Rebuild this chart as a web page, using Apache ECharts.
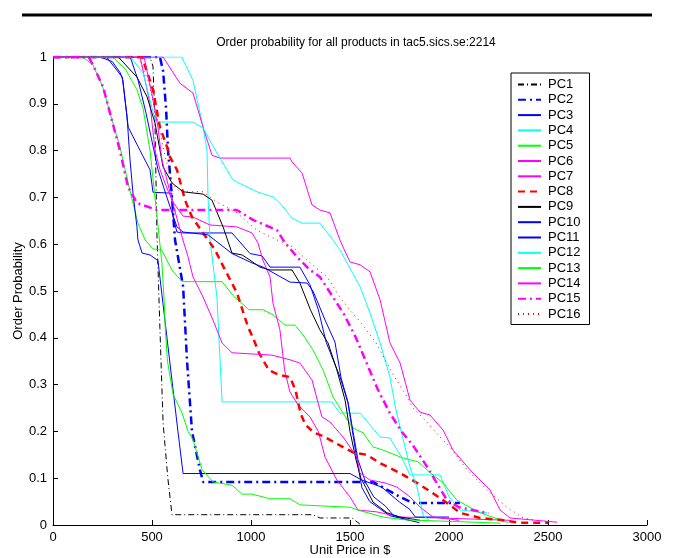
<!DOCTYPE html>
<html>
<head>
<meta charset="utf-8">
<script src="https://cdn.jsdelivr.net/npm/echarts@6/dist/echarts.min.js"></script>
<style>
  html, body { margin: 0; padding: 0; background: #fff; }
  #main { width: 673px; height: 558px; }
</style>
</head>
<body>
<div id="main"></div>
<script>
// [unit price, order probability] per product
const pc1 = [[0,1],[490,1],[505,0.98],[515,0.86],[525,0.62],[540,0.42],[556,0.218],[580,0.1],[601,0.022],[1313,0.022],[1348,0.015],[1510,0.015],[1550,0.002]];
const pc2 = [[0,1],[540,1],[556,0.97],[571,0.89],[581,0.8],[601,0.7],[616,0.61],[657,0.51],[677,0.35],[702,0.2],[742,0.118],[758,0.092],[1616,0.092],[1753,0.06],[1818,0.047],[2055,0.047]];
const pc3 = [[0,1],[270,1],[350,0.957],[380,0.85],[440,0.8],[490,0.759],[505,0.711],[600,0.709],[606,0.658],[626,0.626],[657,0.624],[904,0.624],[995,0.58],[1056,0.575],[1096,0.551],[1247,0.551],[1298,0.513],[1340,0.46],[1380,0.39],[1450,0.316],[1490,0.261],[1535,0.139],[1560,0.08],[1600,0.05],[1650,0.035],[1700,0.02],[1850,0.005]];
const pc4 = [[0,1],[650,1],[707,0.95],[758,0.85],[778,0.8],[783,0.7],[793,0.609],[828,0.487],[854,0.263],[1409,0.263],[1449,0.239],[1551,0.239],[1652,0.188],[1702,0.186],[1760,0.145],[1803,0.107],[1955,0.107],[2000,0.06],[2056,0.032],[2192,0.026]];
const pc5 = [[0,1],[150,1],[202,0.983],[253,0.934],[288,0.88],[338,0.808],[379,0.731],[429,0.645],[465,0.609],[505,0.59],[550,0.587],[600,0.545],[652,0.52],[854,0.52],[910,0.49],[990,0.46],[1061,0.46],[1111,0.449],[1172,0.427],[1222,0.427],[1263,0.406],[1313,0.374],[1364,0.331],[1414,0.274],[1465,0.239],[1515,0.207],[1566,0.197],[1616,0.167],[1667,0.16],[1768,0.143],[1843,0.135],[1919,0.107],[1970,0.09],[2040,0.053],[2157,0.026],[2300,0.005]];
const pc6 = [[0,1],[440,1],[490,0.9],[515,0.8],[540,0.76],[575,0.72],[606,0.69],[657,0.66],[707,0.658],[793,0.641],[929,0.637],[1005,0.624],[1035,0.603],[1060,0.566],[1096,0.53],[1111,0.474],[1146,0.417],[1170,0.33],[1197,0.284],[1237,0.257],[1298,0.231],[1340,0.2],[1374,0.145],[1434,0.096],[1500,0.06],[1540,0.032],[1636,0.028],[1753,0.017],[1955,0.015],[2308,0.01]];
const pc7 = [[0,1],[556,1],[641,0.944],[707,0.923],[758,0.85],[803,0.79],[843,0.784],[1197,0.784],[1207,0.776],[1258,0.752],[1308,0.684],[1348,0.673],[1399,0.667],[1449,0.609],[1480,0.58],[1500,0.562],[1551,0.556],[1601,0.541],[1652,0.481],[1702,0.389],[1753,0.346],[1803,0.267],[1854,0.241],[1904,0.235],[1970,0.203],[2020,0.16],[2121,0.111],[2207,0.075],[2258,0.032],[2308,0.015],[2545,0.006]];
const pc8 = [[0,1],[450,1],[505,0.93],[540,0.85],[576,0.808],[591,0.786],[626,0.759],[667,0.694],[702,0.658],[758,0.624],[818,0.588],[869,0.545],[929,0.496],[985,0.423],[1010,0.4],[1040,0.368],[1090,0.331],[1140,0.321],[1197,0.316],[1225,0.288],[1250,0.239],[1275,0.214],[1320,0.197],[1364,0.19],[1449,0.17],[1515,0.155],[1586,0.15],[1652,0.132],[1753,0.111],[1838,0.09],[1919,0.068],[1990,0.047],[2056,0.026],[2157,0.015],[2258,0.011],[2350,0.005],[2500,0.005]];
const pc9 = [[0,1],[330,1],[424,0.957],[475,0.915],[515,0.859],[556,0.765],[601,0.731],[657,0.712],[758,0.707],[803,0.694],[859,0.637],[904,0.581],[955,0.577],[995,0.566],[1045,0.551],[1096,0.545],[1207,0.545],[1247,0.517],[1300,0.46],[1348,0.417],[1389,0.389],[1434,0.331],[1475,0.267],[1500,0.2],[1530,0.14],[1555,0.1],[1580,0.08],[1616,0.049],[1687,0.026],[1753,0.017],[1854,0.01]];
const pc10 = [[0,1],[390,1],[430,0.95],[470,0.88],[500,0.82],[530,0.76],[560,0.72],[591,0.68],[626,0.637],[657,0.626],[783,0.62],[904,0.58],[1005,0.56],[1061,0.551],[1197,0.519],[1283,0.517],[1313,0.5],[1333,0.48],[1374,0.438],[1424,0.391],[1455,0.314],[1490,0.262],[1515,0.2],[1540,0.14],[1580,0.09],[1620,0.06],[1680,0.04],[1720,0.02],[1800,0.01]];
const pc11 = [[0,1],[240,1],[300,0.99],[340,0.966],[353,0.95],[374,0.872],[389,0.78],[404,0.709],[424,0.637],[429,0.609],[450,0.581],[490,0.577],[530,0.565],[631,0.2],[657,0.11],[1500,0.11],[1560,0.096],[1660,0.081],[1750,0.049],[1800,0.034],[1830,0.017],[2000,0.017]];
const pc12 = [[0,1],[390,1],[455,0.966],[490,0.908],[515,0.866],[540,0.861],[707,0.861],[758,0.848],[828,0.795],[909,0.737],[1030,0.712],[1111,0.701],[1146,0.688],[1207,0.656],[1258,0.645],[1348,0.645],[1414,0.609],[1449,0.588],[1551,0.509],[1601,0.453],[1652,0.389],[1702,0.316],[1730,0.25],[1753,0.209],[1803,0.124],[1838,0.081],[1869,0.021],[1900,0.01]];
const pc13 = [[0,1],[300,1],[364,0.975],[424,0.93],[455,0.89],[490,0.8],[510,0.72],[525,0.66],[535,0.62],[550,0.56],[560,0.49],[567,0.42],[578,0.35],[606,0.28],[652,0.239],[682,0.2],[707,0.182],[753,0.118],[808,0.092],[904,0.085],[954,0.066],[1005,0.066],[1096,0.056],[1197,0.056],[1247,0.043],[1500,0.038],[1540,0.032],[1667,0.017],[1780,0.011],[2260,0.004]];
const pc14 = [[0,1],[460,1],[500,0.92],[530,0.85],[550,0.78],[601,0.694],[652,0.615],[682,0.573],[707,0.53],[758,0.487],[808,0.438],[854,0.389],[904,0.368],[1106,0.363],[1197,0.353],[1247,0.346],[1308,0.31],[1358,0.231],[1399,0.22],[1465,0.188],[1535,0.145],[1550,0.111],[1601,0.096],[1677,0.09],[1737,0.081],[1803,0.06],[1854,0.038],[1919,0.017],[2050,0.01]];
const pc15 = [[0,1],[180,1],[202,0.983],[253,0.936],[288,0.88],[338,0.8],[379,0.722],[424,0.688],[525,0.673],[929,0.673],[1010,0.652],[1131,0.63],[1172,0.603],[1232,0.573],[1298,0.545],[1348,0.53],[1414,0.487],[1470,0.45],[1530,0.4],[1580,0.35],[1640,0.29],[1700,0.24],[1760,0.2],[1818,0.17],[1890,0.124],[1990,0.053],[2050,0.038],[2200,0.025]];
const pc16 = [[0,1],[430,1],[480,0.95],[520,0.88],[560,0.8],[600,0.73],[641,0.712],[758,0.712],[828,0.69],[929,0.667],[1030,0.63],[1131,0.609],[1212,0.594],[1298,0.56],[1384,0.53],[1449,0.487],[1500,0.459],[1560,0.43],[1630,0.39],[1720,0.32],[1780,0.28],[1818,0.25],[1880,0.224],[1950,0.19],[2005,0.167],[2091,0.118],[2192,0.075],[2293,0.038],[2374,0.015],[2424,0.011]];

const names = ['PC1','PC2','PC3','PC4','PC5','PC6','PC7','PC8','PC9','PC10','PC11','PC12','PC13','PC14','PC15','PC16'];
const curves = [pc1,pc2,pc3,pc4,pc5,pc6,pc7,pc8,pc9,pc10,pc11,pc12,pc13,pc14,pc15,pc16];
const colors = ['#000000','#0000ff','#0000ff','#00ffff','#00ff00','#ff00ff','#ff00ff','#ff0000','#000000','#0000ff','#0000ff','#00ffff','#00ff00','#ff00ff','#ff00ff','#ff0000'];
const widths = [1,2.5,1,1,1,1,1,2.5,1,1,1,1,1,1,2.5,1];
const dashes = [[6,3,1,3],[8,4,2,4],'solid','solid','solid','solid','solid',[7,5],'solid','solid','solid','solid','solid','solid',[8,4,2,4],[1,4]];

const font = '"Liberation Sans", Arial, Helvetica, sans-serif';

let series = names.map(function(n, i) {
    return {
        name: n,
        type: 'line',
        data: curves[i],
        symbol: 'none',
        showSymbol: false,
        color: colors[i],
        lineStyle: { color: colors[i], width: widths[i], type: dashes[i] },
        animation: false
    };
});

let chart = echarts.init(document.getElementById('main'));
chart.setOption({
    animation: false,
    backgroundColor: '#fff',
    textStyle: { fontFamily: font },
    title: {
        text: 'Order probability for all products in tac5.sics.se:2214',
        left: 351, top: 32, textAlign: 'center',
        textStyle: { fontSize: 12, fontWeight: 'normal', color: '#000', fontFamily: font }
    },
    graphic: [{
        type: 'line',
        shape: { x1: 22, y1: 15, x2: 652, y2: 15 },
        style: { stroke: '#000', lineWidth: 3 }
    }],
    legend: {
        orient: 'vertical',
        left: 511, top: 73,
        data: names,
        itemWidth: 23, itemHeight: 10, itemGap: 2.3,
        padding: [5, 9, 4, 6],
        borderColor: '#000', borderWidth: 1,
        backgroundColor: '#fff',
        itemStyle: { opacity: 0 },
        textStyle: { fontSize: 13, lineHeight: 13, color: '#000', fontFamily: font, padding: [0, 0, 0, 2] }
    },
    grid: { left: 53, top: 57, width: 594, height: 468, containLabel: false, outerBoundsMode: 'none' },
    xAxis: {
        type: 'value', min: 0, max: 3000, interval: 500,
        name: 'Unit Price in $', nameLocation: 'middle', nameGap: 19, nameMoveOverlap: false,
        nameTextStyle: { fontSize: 13, color: '#000', fontFamily: font },
        axisLine: { lineStyle: { color: '#000', width: 1 } },
        axisTick: { inside: true, length: 5, lineStyle: { color: '#000' } },
        axisLabel: { fontSize: 13, color: '#000', margin: 6, fontFamily: font,
            formatter: function(v) { return String(v); } },
        splitLine: { show: false }
    },
    yAxis: {
        type: 'value', min: 0, max: 1, interval: 0.1,
        name: 'Order Probability', nameLocation: 'middle', nameGap: 28, nameMoveOverlap: false,
        nameTextStyle: { fontSize: 13, color: '#000', fontFamily: font },
        axisLine: { show: true, lineStyle: { color: '#000', width: 1 } },
        axisTick: { show: true, inside: true, length: 5, lineStyle: { color: '#000' } },
        axisLabel: { fontSize: 13, color: '#000', margin: 6, fontFamily: font },
        splitLine: { show: false }
    },
    series: series
});
</script>
</body>
</html>
